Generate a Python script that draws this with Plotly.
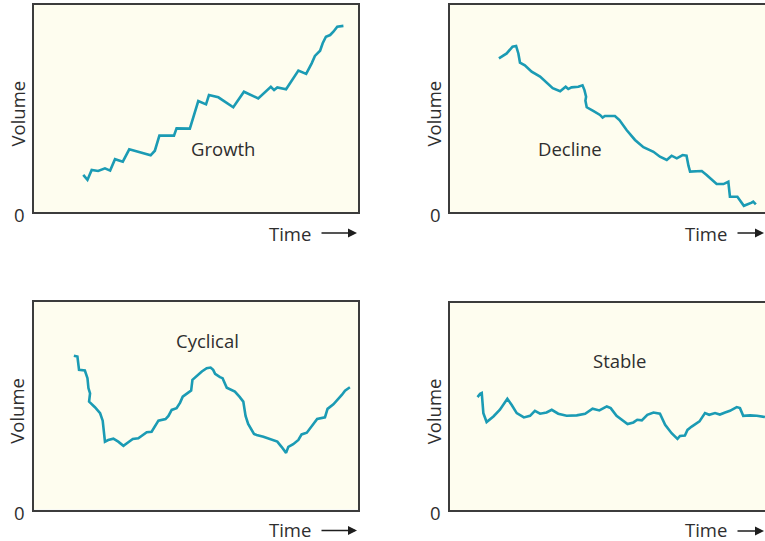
import plotly.graph_objects as go

W, H = 765, 541

# ---- data (time 0-100, volume 0-100) ----
growth_t = [15.2, 16.5, 17.8, 19.8, 21.9, 23.5, 25.0, 27.4, 29.4, 36.0, 37.3, 38.7, 43.2, 44.0, 48.1,
            50.7, 53.1, 54.0, 56.9, 61.5, 64.8, 69.2, 73.1, 74.1, 75.1, 77.8, 81.6, 84.0, 85.7, 86.7,
            88.3, 89.1, 90.1, 91.4, 92.4, 93.6, 95.5]
growth_v = [17.9, 15.5, 20.3, 19.8, 21.1, 20.0, 25.5, 24.3, 30.3, 27.4, 29.6, 36.9, 36.9, 40.4, 40.3,
            53.6, 52.0, 56.5, 55.4, 50.6, 58.1, 54.9, 60.5, 58.9, 60.2, 59.3, 68.3, 66.7, 71.8, 75.4,
            77.9, 81.5, 84.7, 85.5, 87.1, 89.5, 89.9]

decline_t = [15.1, 17.5, 19.3, 20.4, 21.1, 21.6, 23.1, 25.2, 27.8, 29.8, 31.7, 34.0, 35.7, 36.5, 37.5,
             39.6, 40.9, 41.5, 42.0, 41.8, 42.2, 44.2, 46.3, 47.1, 47.8, 50.9, 52.3, 54.5, 57.1, 59.7,
             62.8, 64.8, 66.9, 68.4, 70.0, 71.8, 73.0, 73.6, 74.1, 77.7, 79.2, 82.3, 84.4, 85.9, 86.4,
             88.7, 90.7, 93.1, 93.6, 94.4]
decline_v = [74.2, 76.6, 79.9, 80.2, 76.6, 72.2, 70.9, 67.8, 65.4, 62.5, 59.8, 58.3, 60.5, 59.4, 60.2,
             60.5, 61.2, 58.9, 55.7, 53.8, 50.6, 48.8, 46.9, 45.6, 46.4, 46.4, 44.4, 39.6, 34.8, 31.3,
             29.1, 26.7, 25.1, 27.2, 25.9, 27.5, 27.2, 22.4, 19.5, 19.8, 17.9, 13.5, 13.5, 14.6, 7.4,
             7.4, 3.0, 4.5, 5.0, 3.7]

cyclical_t = [12.3, 13.4, 13.9, 15.7, 16.5, 16.8, 17.3, 17.0, 18.8, 20.4, 21.2, 21.9, 22.9, 24.5, 26.0,
              27.6, 29.1, 30.5, 32.2, 33.7, 34.8, 36.3, 37.3, 38.4, 40.6, 41.5, 42.5, 44.0, 45.1, 45.9,
              47.6, 48.5, 48.9, 50.2, 51.8, 53.3, 54.5, 55.3, 55.9, 57.4, 58.2, 59.5, 62.0, 63.4, 64.6,
              65.3, 66.1, 67.9, 68.7, 70.8, 72.8, 75.1, 76.4, 77.8, 78.5, 80.0, 81.6, 82.6, 84.2, 85.7,
              87.4, 89.8, 90.6, 92.4, 93.9, 95.0, 96.0, 97.5]
cyclical_v = [74.1, 73.7, 67.3, 67.0, 63.3, 58.5, 56.0, 52.0, 49.3, 46.4, 42.8, 32.7, 33.5, 34.1, 32.7,
              30.7, 32.4, 34.0, 34.3, 35.9, 37.2, 37.5, 39.9, 42.8, 43.6, 45.1, 48.0, 48.8, 51.5, 54.4,
              56.3, 57.3, 62.5, 64.4, 66.5, 68.1, 68.4, 67.3, 65.4, 63.8, 63.3, 58.7, 56.8, 54.4, 52.0,
              45.1, 41.2, 36.4, 35.9, 35.1, 34.0, 32.7, 30.2, 27.3, 30.2, 31.5, 33.5, 36.2, 37.0, 39.9,
              43.6, 44.4, 48.5, 50.7, 53.1, 55.2, 57.3, 58.9]

stable_t = [8.5, 9.3, 9.8, 10.3, 11.3, 13.4, 15.4, 17.7, 19.0, 20.6, 22.8, 24.7, 26.2, 27.8, 29.8,
            31.4, 33.4, 36.0, 39.1, 41.7, 44.0, 46.1, 48.4, 49.6, 51.4, 54.8, 56.6, 57.8, 59.2, 60.9,
            62.8, 64.8, 66.4, 68.4, 70.2, 71.0, 72.5, 73.3, 74.6, 77.0, 78.7, 80.0, 81.8, 83.3, 84.9,
            86.4, 88.5, 89.5, 90.5, 92.6, 94.7, 97.2]
stable_v = [54.4, 56.0, 56.4, 46.7, 42.4, 45.1, 48.3, 53.6, 50.7, 46.7, 44.6, 45.4, 47.8, 46.4, 47.0,
            48.3, 46.4, 45.4, 45.6, 46.4, 48.8, 48.0, 49.9, 49.1, 45.4, 41.4, 42.2, 43.5, 43.2, 45.9,
            47.0, 46.4, 41.1, 37.0, 34.3, 35.7, 35.9, 38.6, 40.2, 42.7, 46.7, 45.9, 46.7, 46.0, 47.0,
            47.8, 49.6, 49.1, 45.4, 45.6, 45.4, 44.8]

panel_titles = ["Growth", "Decline", "Cyclical", "Stable"]
y_label = "Volume"
x_label = "Time"
zero_label = "0"

# ---- styling / layout ----
LINE = "#1b9bb4"
BG = "#fefdef"
AXC = "#3c3c3c"
TXT = "#2e2e2e"
FONT = "Open Sans"
FS = 18.5

def px_x(v):
    return v / W

def px_y(v):
    return 1 - v / H

# panel pixel boxes: left, top, right, bottom (right panels run past the window edge)
boxes = [(34, 5, 358, 212), (450, 5, 774, 212), (34, 302, 358, 509.5), (450, 302.5, 774, 510)]
series = [(growth_t, growth_v), (decline_t, decline_v), (cyclical_t, cyclical_v), (stable_t, stable_v)]
title_pos = [(223, 149), (570, 149), (207, 340), (619, 360)]

fig = go.Figure()
layout = dict(
    width=W, height=H, margin=dict(l=0, r=0, t=0, b=0),
    paper_bgcolor="white", showlegend=False,
    font=dict(family=FONT, color=TXT, size=FS),
)
annotations = []
for i, ((l, t, r, b), (xs, ys)) in enumerate(zip(boxes, series)):
    n = "" if i == 0 else str(i + 1)
    is_right = r > W
    right_edge = min(r, W)
    xmax = 100 * (right_edge - l) / (r - l)
    fig.add_trace(go.Scatter(x=xs, y=ys, mode="lines", line=dict(color=LINE, width=2.6),
                             xaxis="x" + n, yaxis="y" + n, hoverinfo="skip"))
    layout["xaxis" + n] = dict(domain=[px_x(l), px_x(right_edge)], range=[0, xmax],
                               showgrid=False, zeroline=False, showticklabels=False, ticks="",
                               showline=True, linecolor=AXC, linewidth=1.5, mirror=True,
                               anchor="y" + n, fixedrange=True)
    layout["yaxis" + n] = dict(domain=[px_y(b), px_y(t)], range=[0, 100],
                               showgrid=False, zeroline=False, showticklabels=False, ticks="",
                               showline=True, linecolor=AXC, linewidth=1.5,
                               mirror=(not is_right),
                               anchor="x" + n, fixedrange=True)
    # plot-area background
    fig.add_shape(type="rect", xref="paper", yref="paper", x0=px_x(l),
                  x1=px_x(right_edge) + (0.02 if is_right else 0),
                  y0=px_y(b), y1=px_y(t), fillcolor=BG, line=dict(width=0), layer="below")
    # texts
    annotations.append(dict(text=panel_titles[i], x=px_x(title_pos[i][0]), y=px_y(title_pos[i][1]),
                            xref="paper", yref="paper", showarrow=False, xanchor="center", yanchor="middle",
                            font=dict(size=FS, color=TXT, family=FONT)))
    annotations.append(dict(text=y_label, x=px_x(l - 17), y=px_y((t + b) / 2 + 5), textangle=-90,
                            xref="paper", yref="paper", showarrow=False, xanchor="center", yanchor="middle",
                            font=dict(size=FS, color=TXT, family=FONT)))
    annotations.append(dict(text=zero_label, x=px_x(l - 15), y=px_y(b + 2.5),
                            xref="paper", yref="paper", showarrow=False, xanchor="center", yanchor="middle",
                            font=dict(size=FS, color=TXT, family=FONT)))
    annotations.append(dict(text=x_label, x=px_x(l + 256), y=px_y(min(b + 21, H - 11.5)),
                            xref="paper", yref="paper", showarrow=False, xanchor="center", yanchor="middle",
                            borderpad=0, font=dict(size=FS, color=TXT, family=FONT)))
    annotations.append(dict(text="", x=px_x(l + 323), y=px_y(b + 21), xref="paper", yref="paper",
                            showarrow=True, ax=-37, ay=0, arrowhead=2, arrowsize=1.2, arrowwidth=1.5,
                            arrowcolor="#1e1e1e", standoff=0, startstandoff=0))

layout["annotations"] = annotations
fig.update_layout(**layout)
fig.write_html("out.html", config={"displayModeBar": False},
               post_script="document.body.style.margin='0px';document.body.style.overflow='hidden';")
